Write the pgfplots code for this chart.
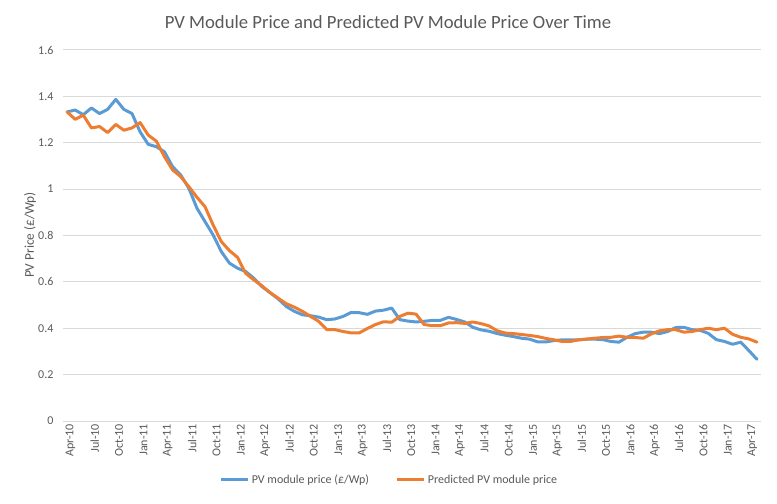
\documentclass[border=0pt]{standalone}
\usepackage{pgfplots}
\pgfplotsset{compat=1.18}
\usepackage{fontspec}
\setmainfont{Carlito}
\definecolor{pvblue}{HTML}{5B9BD5}
\definecolor{pvorange}{HTML}{ED7D31}
\definecolor{txtgray}{HTML}{595959}
\definecolor{gridgray}{HTML}{D9D9D9}
\begin{document}
\begin{tikzpicture}
\path[use as bounding box] (-47.25pt,-61.5pt) rectangle (535.5pt,315.75pt);
\begin{axis}[
  scale only axis, width=523.5pt, height=278.25pt,
  xmin=-0.5, xmax=85.5, ymin=0, ymax=1.6,
  axis line style={draw=none},
  major tick length=0pt,
  ymajorgrids, grid style={gridgray, line width=0.75pt},
  ytick={0,0.2,0.4,0.6,0.8,1,1.2,1.4,1.6},
  yticklabels={0,0.2,0.4,0.6,0.8,1,1.2,1.4,1.6},
  xtick={0,3,...,84},
  xticklabels={Apr-10,Jul-10,Oct-10,Jan-11,Apr-11,Jul-11,Oct-11,Jan-12,Apr-12,Jul-12,Oct-12,Jan-13,Apr-13,Jul-13,Oct-13,Jan-14,Apr-14,Jul-14,Oct-14,Jan-15,Apr-15,Jul-15,Oct-15,Jan-16,Apr-16,Jul-16,Oct-16,Jan-17,Apr-17},
  xticklabel style={rotate=90, anchor=east, font=\fontsize{9}{10}\selectfont, text=txtgray, inner sep=2pt, yshift=-2.5pt},
  yticklabel style={font=\fontsize{9}{10}\selectfont, text=txtgray, inner sep=2pt, xshift=-5pt},
  xtick pos=bottom, ytick pos=left,
  legend columns=2,
  legend style={at={(0.468,-0.159)}, anchor=center, draw=none, fill=none,
    font=\fontsize{9}{10}\selectfont, text=txtgray,
    /tikz/every even column/.append style={column sep=18pt}},
  legend image code/.code={\draw[#1, line cap=butt] (0cm,0cm) -- (0.7cm,0cm);},
  every axis plot/.append style={line width=2.25pt, line join=round, line cap=round},
]
\addplot[pvblue] coordinates {
(0,1.333)(1,1.341)(2,1.321)(3,1.35)(4,1.326)(5,1.344)(6,1.387)(7,1.344)(8,1.326)(9,1.247)
(10,1.193)(11,1.183)(12,1.161)(13,1.097)(14,1.061)(15,1.004)(16,0.918)(17,0.86)(18,0.802)(19,0.731)
(20,0.681)(21,0.659)(22,0.645)(23,0.616)(24,0.58)(25,0.554)(26,0.527)(27,0.494)(28,0.473)(29,0.458)
(30,0.454)(31,0.448)(32,0.437)(33,0.44)(34,0.451)(35,0.468)(36,0.467)(37,0.46)(38,0.474)(39,0.478)
(40,0.487)(41,0.437)(42,0.431)(43,0.427)(44,0.43)(45,0.434)(46,0.434)(47,0.447)(48,0.438)(49,0.427)
(50,0.404)(51,0.393)(52,0.387)(53,0.377)(54,0.37)(55,0.364)(56,0.357)(57,0.353)(58,0.341)(59,0.341)
(60,0.347)(61,0.35)(62,0.35)(63,0.35)(64,0.353)(65,0.353)(66,0.351)(67,0.343)(68,0.34)(69,0.361)
(70,0.377)(71,0.383)(72,0.383)(73,0.377)(74,0.386)(75,0.403)(76,0.404)(77,0.394)(78,0.391)(79,0.378)
(80,0.351)(81,0.343)(82,0.331)(83,0.34)(84,0.304)(85,0.266)
};
\addlegendentry{PV module price (£/Wp)}
\addplot[pvorange] coordinates {
(0,1.333)(1,1.301)(2,1.319)(3,1.264)(4,1.27)(5,1.244)(6,1.279)(7,1.254)(8,1.264)(9,1.287)
(10,1.233)(11,1.207)(12,1.14)(13,1.083)(14,1.054)(15,1.011)(16,0.965)(17,0.924)(18,0.845)(19,0.774)
(20,0.735)(21,0.706)(22,0.637)(23,0.609)(24,0.583)(25,0.554)(26,0.53)(27,0.506)(28,0.491)(29,0.473)
(30,0.451)(31,0.43)(32,0.394)(33,0.394)(34,0.386)(35,0.38)(36,0.38)(37,0.399)(38,0.416)(39,0.428)
(40,0.426)(41,0.451)(42,0.465)(43,0.461)(44,0.416)(45,0.411)(46,0.411)(47,0.423)(48,0.424)(49,0.421)
(50,0.427)(51,0.42)(52,0.41)(53,0.389)(54,0.379)(55,0.377)(56,0.373)(57,0.369)(58,0.364)(59,0.356)
(60,0.35)(61,0.343)(62,0.343)(63,0.35)(64,0.353)(65,0.357)(66,0.36)(67,0.361)(68,0.366)(69,0.361)
(70,0.36)(71,0.357)(72,0.376)(73,0.389)(74,0.394)(75,0.394)(76,0.383)(77,0.386)(78,0.394)(79,0.4)
(80,0.394)(81,0.4)(82,0.374)(83,0.361)(84,0.354)(85,0.34)
};
\addlegendentry{Predicted PV module price}
\end{axis}
\node[text=txtgray, font=\fontsize{14}{16}\selectfont] at (243.75pt,299.25pt) {PV Module Price and Predicted PV Module Price Over Time};
\node[text=txtgray, font=\fontsize{10}{12}\selectfont, rotate=90] at (-24.75pt,139.5pt) {PV Price (£/Wp)};
\end{tikzpicture}
\end{document}
